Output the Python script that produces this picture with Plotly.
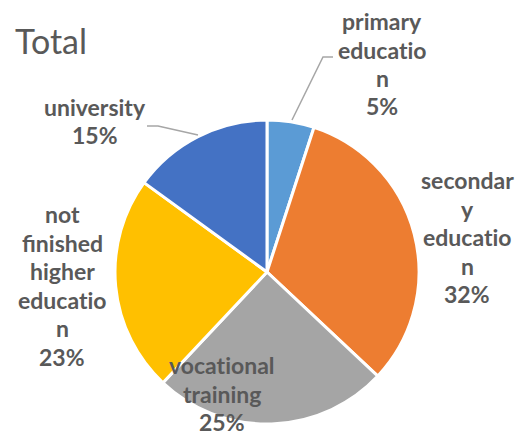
import plotly.graph_objects as go

W, H = 518, 436

categories = ["primary education", "secondary education", "vocational training",
              "not finished higher education", "university"]
values = [5, 32, 25, 23, 15]
colors = ["#5B9BD5", "#ED7D31", "#A5A5A5", "#FFC000", "#4472C4"]
# label text as wrapped in the original chart
label_lines = [
    ["primary", "educatio", "n"],
    ["secondar", "y", "educatio", "n"],
    ["vocational", "training"],
    ["not", "finished", "higher", "educatio", "n"],
    ["university"],
]
# label anchor (pixel centre of first line)
label_pos = [(382, 21), (467, 180), (222, 365), (62, 214), (95, 107)]

total = sum(values)
pcts = [f"{round(v * 100 / total)}%" for v in values]

def px(x):
    return x / W

def py(y):
    return 1 - y / H

def noliga(t):
    # avoid the "ti" ligature of the font
    return t.replace("ti", "t\u200ci")

cx, cy, r = 267, 272, 152

fig = go.Figure(go.Pie(
    labels=categories, values=values, sort=False, direction="clockwise", rotation=0,
    marker=dict(colors=colors, line=dict(color="white", width=3)),
    textinfo="none", hoverinfo="label+percent", showlegend=False,
    domain=dict(x=[px(cx - r), px(cx + r)], y=[py(cy + r), py(cy - r)]),
))

annotations = []
LS = 28.5
for lines, pct, (x, y) in zip(label_lines, pcts, label_pos):
    for i, t in enumerate(lines + [pct]):
        annotations.append(dict(
            x=px(x), y=py(y + i * LS), xref="paper", yref="paper",
            text=noliga(t), showarrow=False, xanchor="center", yanchor="middle",
            font=dict(family="Lato", size=23, color="#595959", weight="bold"),
        ))

annotations.append(dict(
    x=px(13), y=py(40), xref="paper", yref="paper", text="Total", showarrow=False,
    xanchor="left", yanchor="middle",
    font=dict(family="Lato", size=34, color="#595959"),
))

shapes = [
    dict(type="path", xref="paper", yref="paper",
         path=f"M {px(292)} {py(120)} L {px(323)} {py(57)} L {px(333)} {py(57)}",
         line=dict(color="#A6A6A6", width=1.5)),
    dict(type="path", xref="paper", yref="paper",
         path=f"M {px(198)} {py(135)} L {px(158)} {py(126)} L {px(147)} {py(126)}",
         line=dict(color="#A6A6A6", width=1.5)),
]

fig.update_layout(
    width=W, height=H, margin=dict(l=0, r=0, t=0, b=0),
    paper_bgcolor="white", plot_bgcolor="white",
    annotations=annotations, shapes=shapes,
)

fig.write_html("out.html", config={"displayModeBar": False},
               post_script="document.body.style.margin='0';")
